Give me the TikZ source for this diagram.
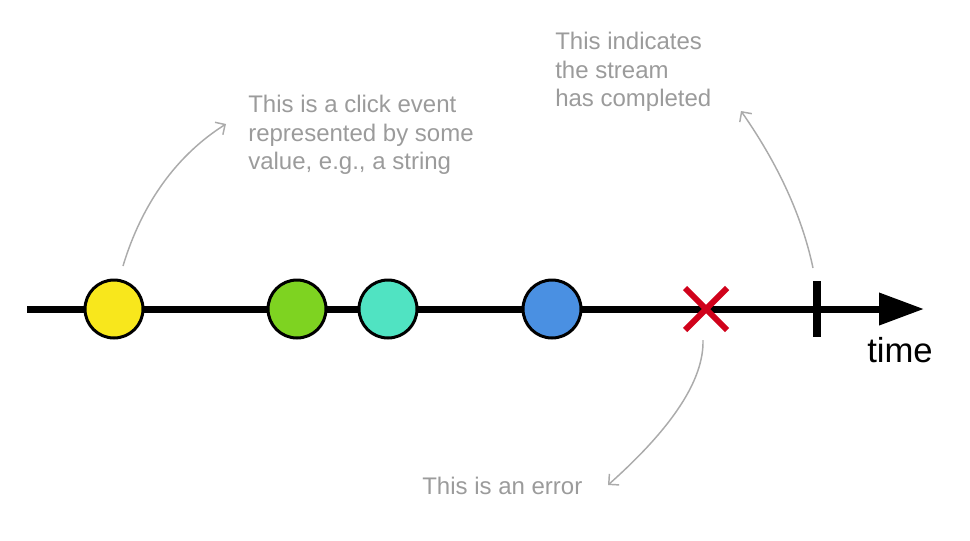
\documentclass[tikz,border=0pt]{standalone}
\usepackage{fontspec}
\setmainfont{Liberation Sans}
\usetikzlibrary{arrows.meta}

\definecolor{evyellow}{HTML}{F8E71C}
\definecolor{evgreen}{HTML}{7ED321}
\definecolor{evteal}{HTML}{50E3C2}
\definecolor{evblue}{HTML}{4A90E2}
\definecolor{everr}{HTML}{D0021B}
\definecolor{notegray}{HTML}{9B9B9B}
\definecolor{linegray}{HTML}{ABABAB}

\begin{document}
\begin{tikzpicture}[x=0.75pt, y=-0.75pt,
  event/.style={circle, draw=black, line width=2.25pt, minimum size=43.5pt, inner sep=0pt},
  note/.style={anchor=north west, inner sep=0pt, align=left, text=notegray,
    font=\fontsize{18}{21.4}\selectfont},
  notearrow/.style={draw=linegray, line width=1.1pt,
    -{Straight Barb[length=5.5pt,width=11pt]}}]

  \useasboundingbox (0,0) rectangle (970,540);

  % 1. 時間軸
  \coordinate (start) at (27,309);
  \coordinate (tip) at (924,309);
  \draw[line width=5.25pt, -{Triangle[length=33.75pt,width=23.25pt]}] (start) -- (tip);
  \node[anchor=base west, inner sep=0pt, font=\fontsize{26}{30}\selectfont] (timelabel) at (867,362) {time};

  % 2. イベント (値)
  \node[event, fill=evyellow] (click) at (114,309) {};
  \node[event, fill=evgreen] (green) at (297,309) {};
  \node[event, fill=evteal] (teal) at (388,309) {};
  \node[event, fill=evblue] (blue) at (552,309) {};

  % 3. エラー (x 印)
  \coordinate (err) at (706,309);
  \draw[everr, line width=4.5pt] (err) ++(-21,-21) -- ++(42,42);
  \draw[everr, line width=4.5pt] (err) ++(21,-21) -- ++(-42,42);

  % 4. 完了 (縦棒)
  \coordinate (done) at (817,309);
  \draw[line width=6pt] (done) ++(0,-28) -- ++(0,56);

  % 5. 説明文
  \node[note] (clicknote) at (248,95) {This is a click event\\represented by some\\value, e.g., a string};
  \node[note] (donenote) at (555,32) {This indicates\\the stream\\has completed};
  \node[note] (errnote) at (422,477) {This is an error};

  % 6. 説明の矢印
  \coordinate (clickfoot) at (123,266);
  \coordinate (clickhead) at (226,124);
  \coordinate (donefoot) at (813,268);
  \coordinate (donehead) at (741,111);
  \coordinate (errfoot) at (703,340);
  \coordinate (errhead) at (608,485);
  \draw[notearrow] (clickfoot) .. controls (142,203) and (177,155) .. (clickhead);
  \draw[notearrow] (donefoot) .. controls (802,216) and (778,164) .. (donehead);
  \draw[notearrow] (errfoot) .. controls (704,380) and (672,428) .. (errhead);

\end{tikzpicture}
\end{document}
